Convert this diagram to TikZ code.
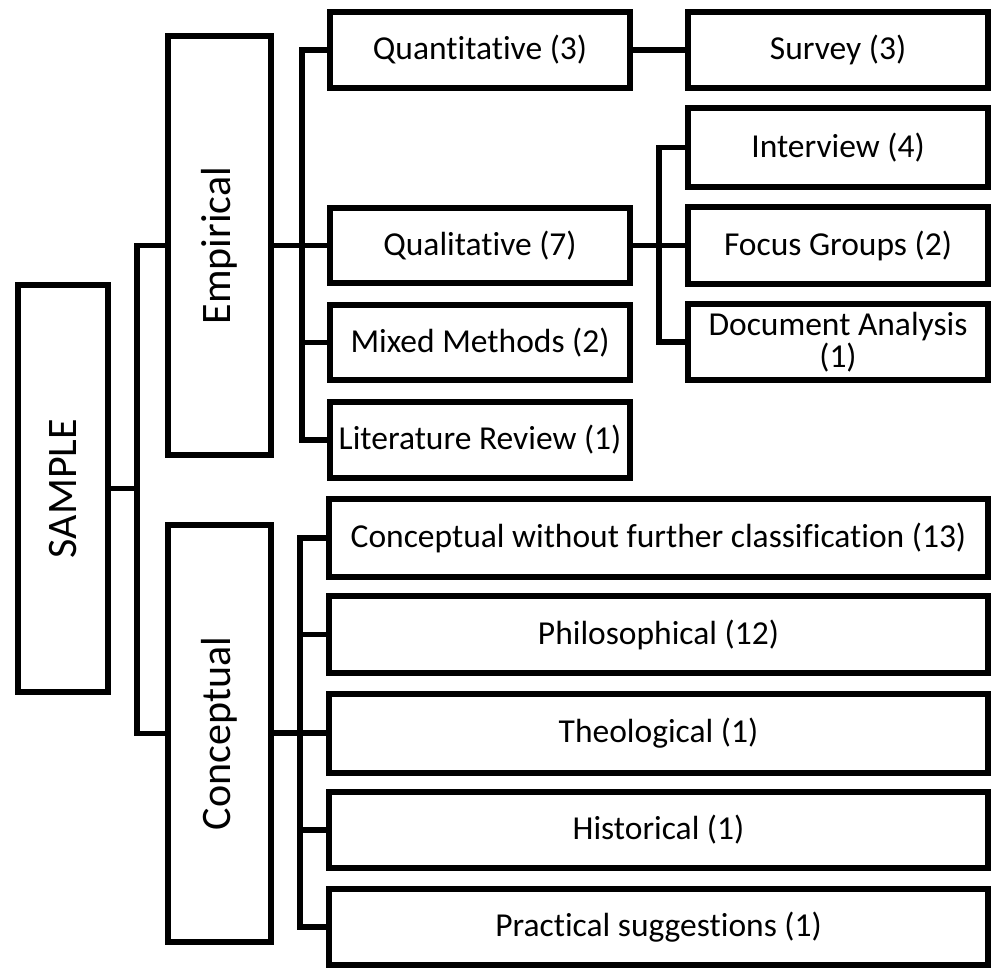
\documentclass[tikz,border=0pt]{standalone}
\usepackage{fontspec}
\setmainfont{Carlito}[Ligatures={NoCommon}]
\begin{document}
\begin{tikzpicture}[x=1pt,y=-1pt,
  box/.style={draw=black,line width=6pt,fill=white,inner sep=0pt,align=center,
    font=\fontsize{33.5}{32}\selectfont,line join=miter},
  bigbox/.style={box,font=\fontsize{42}{42}\selectfont},
  wire/.style={draw=black,line width=5.5pt,line join=miter}]
\useasboundingbox (0,0) rectangle (1000,968);
% level 0 and 1
\node[bigbox,minimum width=90,minimum height=407] (sample) at (63,488.5) {\rotatebox{90}{SAMPLE}};
\node[bigbox,minimum width=103,minimum height=419] (emp) at (219.5,245.5) {\rotatebox{90}{Empirical}};
\node[bigbox,minimum width=103,minimum height=417] (con) at (219.5,733.5) {\rotatebox{90}{Conceptual}};
% empirical children
\node[box,minimum width=300,minimum height=76] (quant) at (480,50) {Quantitative (3)};
\node[box,minimum width=300,minimum height=75] (qual) at (480,245.5) {Qualitative (7)};
\node[box,minimum width=300,minimum height=75] (mixed) at (480,342.5) {Mixed Methods (2)};
\node[box,minimum width=300,minimum height=76] (lit) at (480,440) {Literature Review (1)};
\node[box,minimum width=300,minimum height=76] (survey) at (838,50) {Survey (3)};
\node[box,minimum width=300,minimum height=79] (interv) at (838,147.5) {Interview (4)};
\node[box,minimum width=300,minimum height=76] (focus) at (838,245.5) {Focus Groups (2)};
\node[box,minimum width=300,minimum height=76] (docan) at (838,342) {Document Analysis\\(1)};
% conceptual children
\node[box,minimum width=659,minimum height=78] (cw) at (658.5,538) {Conceptual without further classification (13)};
\node[box,minimum width=659,minimum height=77] (phil) at (658.5,634.5) {Philosophical (12)};
\node[box,minimum width=659,minimum height=79] (theo) at (658.5,733) {Theological (1)};
\node[box,minimum width=659,minimum height=76] (hist) at (658.5,830) {Historical (1)};
\node[box,minimum width=659,minimum height=76] (prac) at (658.5,927) {Practical suggestions (1)};
% buses
\coordinate (b1) at (137,488.5);
\coordinate (b2) at (302,245.5);
\coordinate (b3) at (659,245.5);
\coordinate (b4) at (300,733);
\draw[wire] (sample.east) -- (b1);
\draw[wire] (emp.west) -| (b1) |- (con.west);
\draw[wire] (emp.east) -- (b2) |- (qual.west);
\draw[wire] (quant.west) -| (b2) |- (lit.west);
\draw[wire] (b2) |- (mixed.west);
\draw[wire] (quant.east) -- (survey.west);
\draw[wire] (qual.east) -- (b3) |- (focus.west);
\draw[wire] (interv.west) -| (b3) |- (docan.west);
\draw[wire] (con.east) |- (b4) |- (theo.west);
\draw[wire] (cw.west) -| (b4) |- (prac.west);
\draw[wire] (b4) |- (phil.west);
\draw[wire] (b4) |- (hist.west);
\end{tikzpicture}
\end{document}
